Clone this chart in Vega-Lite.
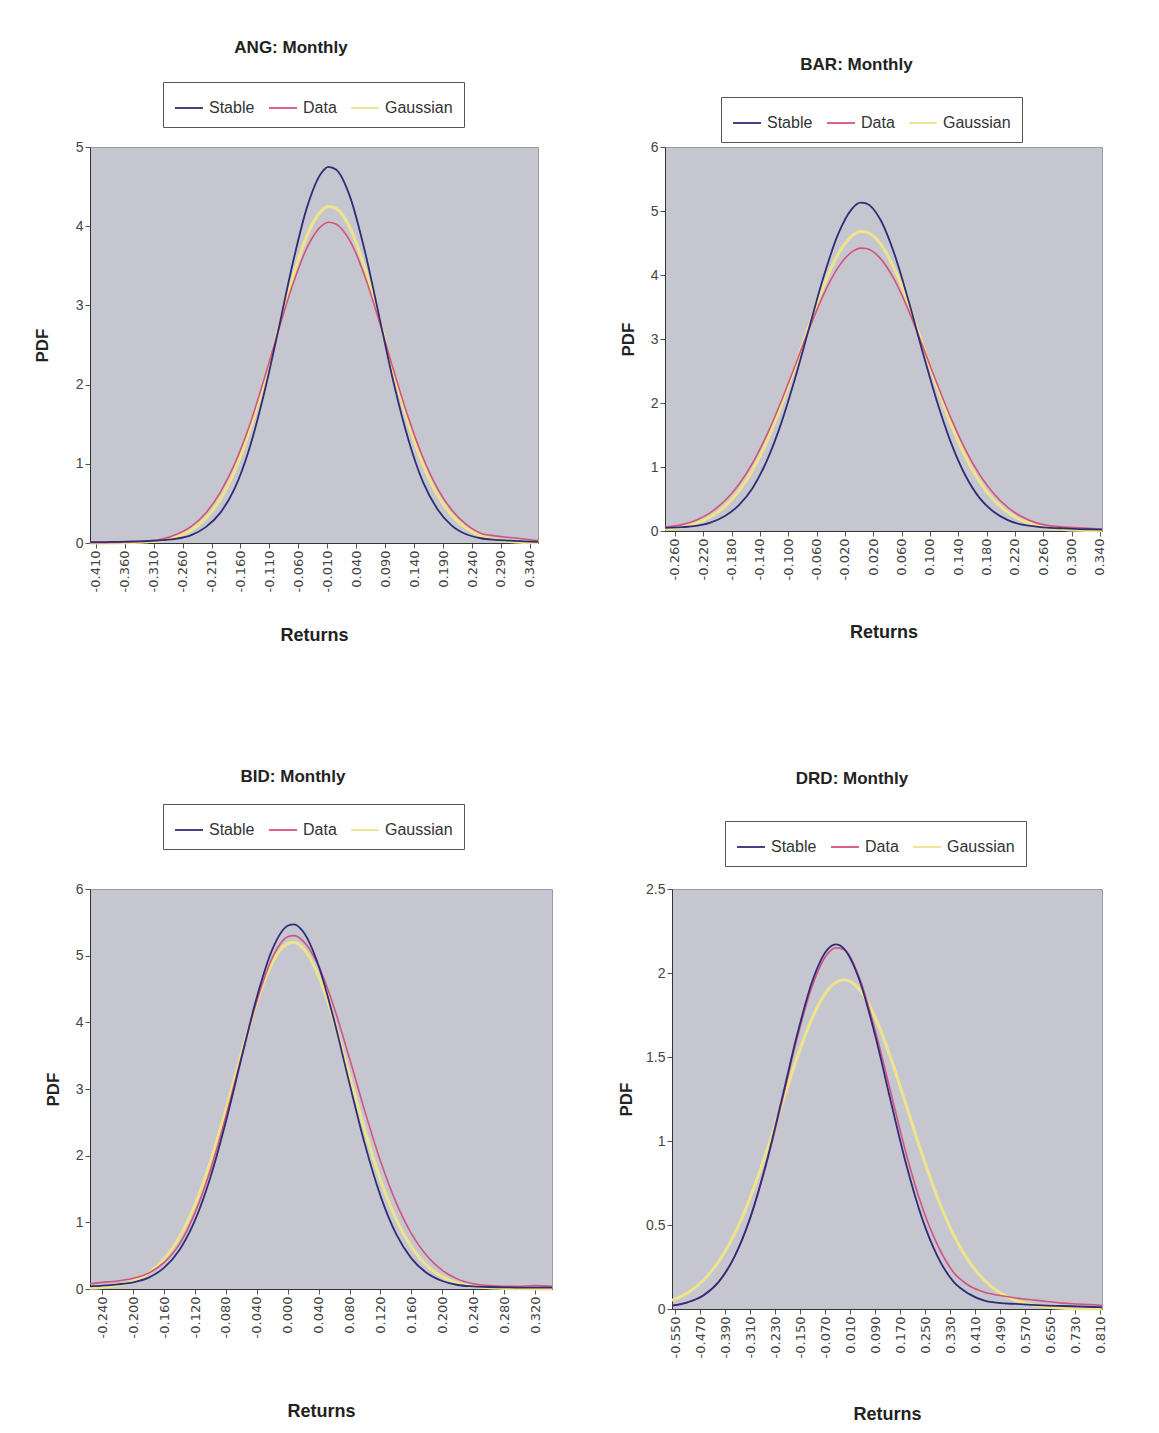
{
  "$schema": "https://vega.github.io/schema/vega-lite/v6.json",
  "background": "white",
  "padding": {"left": 32, "top": 38, "right": 5, "bottom": 5},
  "columns": 1,
  "align": "none",
  "spacing": 121,
  "resolve": {"scale": {"color": "independent"}, "legend": {"color": "independent"}},
  "config": {
    "view": {"fill": "#c6c6d0", "stroke": "#9a9aa6"},
    "font": "Liberation Sans",
    "title": {"font": "Liberation Sans", "fontSize": 17, "fontWeight": "bold", "color": "#222222", "anchor": "middle"},
    "axis": {"grid": false, "domainColor": "#333333", "tickColor": "#555555", "tickSize": 5, "labelPadding": 2, "labelColor": "#444444", "titleColor": "#222222", "labelOverlap": false, "labelFlush": false},
    "axisX": {"labelAngle": -90, "labelFont": "DejaVu Sans", "labelFontSize": 13, "titleFont": "Liberation Sans", "titleFontSize": 18, "titleFontWeight": "bold", "labelExpr": "replace(format(datum.value, '.3f'), '\u2212', '-')"},
    "axisY": {"labelFont": "Liberation Sans", "labelFontSize": 14, "titleFont": "Liberation Sans", "titleFontSize": 17, "titleFontWeight": "bold", "titlePadding": 13},
    "legend": {"orient": "none", "direction": "horizontal", "symbolType": "stroke", "symbolSize": 784, "symbolStrokeWidth": 1.8, "labelFont": "Liberation Sans", "labelFontSize": 16, "labelColor": "#333333", "strokeColor": "#555555", "padding": 11, "columnPadding": 10, "labelOffset": 5},
    "line": {"interpolate": "monotone"}
  },
  "concat": [
    {
      "bounds": "flush",
      "spacing": 127,
      "resolve": {"scale": {"color": "independent"}, "legend": {"color": "independent"}},
      "hconcat": [
        {
          "title": {"text": "ANG: Monthly", "offset": 25, "dx": -23},
          "width": 448,
          "height": 396,
          "data": {"values": [
            {"x": -0.420, "s": 0.010, "d": 0.005, "g": 0.000},
            {"x": -0.395, "s": 0.012, "d": 0.005, "g": 0.001},
            {"x": -0.370, "s": 0.015, "d": 0.008, "g": 0.002},
            {"x": -0.345, "s": 0.020, "d": 0.012, "g": 0.006},
            {"x": -0.320, "s": 0.025, "d": 0.025, "g": 0.016},
            {"x": -0.295, "s": 0.035, "d": 0.050, "g": 0.036},
            {"x": -0.270, "s": 0.055, "d": 0.110, "g": 0.080},
            {"x": -0.245, "s": 0.100, "d": 0.210, "g": 0.163},
            {"x": -0.220, "s": 0.200, "d": 0.380, "g": 0.311},
            {"x": -0.195, "s": 0.380, "d": 0.640, "g": 0.551},
            {"x": -0.170, "s": 0.690, "d": 1.000, "g": 0.911},
            {"x": -0.145, "s": 1.185, "d": 1.470, "g": 1.402},
            {"x": -0.120, "s": 1.866, "d": 2.050, "g": 2.011},
            {"x": -0.095, "s": 2.675, "d": 2.668, "g": 2.687},
            {"x": -0.070, "s": 3.523, "d": 3.257, "g": 3.346},
            {"x": -0.045, "s": 4.241, "d": 3.729, "g": 3.882},
            {"x": -0.020, "s": 4.675, "d": 4.003, "g": 4.196},
            {"x": -0.008, "s": 4.750, "d": 4.050, "g": 4.250},
            {"x": 0.005, "s": 4.716, "d": 4.029, "g": 4.226},
            {"x": 0.030, "s": 4.355, "d": 3.802, "g": 3.965},
            {"x": 0.055, "s": 3.680, "d": 3.364, "g": 3.467},
            {"x": 0.080, "s": 2.849, "d": 2.791, "g": 2.824},
            {"x": 0.105, "s": 2.011, "d": 2.171, "g": 2.143},
            {"x": 0.130, "s": 1.307, "d": 1.583, "g": 1.515},
            {"x": 0.155, "s": 0.774, "d": 1.082, "g": 0.998},
            {"x": 0.180, "s": 0.430, "d": 0.694, "g": 0.613},
            {"x": 0.205, "s": 0.220, "d": 0.417, "g": 0.351},
            {"x": 0.230, "s": 0.110, "d": 0.235, "g": 0.187},
            {"x": 0.255, "s": 0.060, "d": 0.124, "g": 0.093},
            {"x": 0.280, "s": 0.040, "d": 0.090, "g": 0.043},
            {"x": 0.305, "s": 0.030, "d": 0.070, "g": 0.018},
            {"x": 0.330, "s": 0.020, "d": 0.050, "g": 0.007},
            {"x": 0.354, "s": 0.015, "d": 0.030, "g": 0.003}
          ]},
          "encoding": {
            "x": {"field": "x", "type": "quantitative", "scale": {"domain": [-0.42, 0.354], "nice": false, "zero": false},
                  "axis": {"title": "Returns", "titlePadding": 35, "values": [-0.41, -0.36, -0.31, -0.26, -0.21, -0.16, -0.11, -0.06, -0.01, 0.04, 0.09, 0.14, 0.19, 0.24, 0.29, 0.34]}}
          },
          "layer": [
            {"mark": {"type": "line", "strokeWidth": 3}, "encoding": {
              "y": {"field": "g", "type": "quantitative", "title": "PDF", "scale": {"domain": [0, 5], "nice": false}, "axis": {"values": [0, 0.5, 1, 1.5, 2, 2.5, 3, 3.5, 4, 4.5, 5], "format": ".1~f", "titlePadding": 24}},
              "color": {"datum": "Gaussian", "type": "nominal", "scale": {"domain": ["Stable", "Data", "Gaussian"], "range": ["#2d2d78", "#d4527e", "#eee48a"]}, "legend": {"title": null, "legendX": 73, "legendY": -65}}}},
            {"mark": {"type": "line", "strokeWidth": 1.6}, "encoding": {
              "y": {"field": "d", "type": "quantitative", "title": "PDF", "scale": {"domain": [0, 5], "nice": false}},
              "color": {"datum": "Data", "type": "nominal"}}},
            {"mark": {"type": "line", "strokeWidth": 1.8}, "encoding": {
              "y": {"field": "s", "type": "quantitative", "title": "PDF", "scale": {"domain": [0, 5], "nice": false}},
              "color": {"datum": "Stable", "type": "nominal"}}}
          ]
        },
        {
          "title": {"text": "BAR: Monthly", "offset": 23, "dx": -27},
          "width": 437,
          "height": 384,
          "data": {"values": [
            {"x": -0.274, "s": 0.050, "d": 0.060, "g": 0.032},
            {"x": -0.25, "s": 0.060, "d": 0.100, "g": 0.064},
            {"x": -0.23, "s": 0.080, "d": 0.169, "g": 0.122},
            {"x": -0.21, "s": 0.130, "d": 0.288, "g": 0.221},
            {"x": -0.19, "s": 0.230, "d": 0.468, "g": 0.380},
            {"x": -0.17, "s": 0.400, "d": 0.724, "g": 0.619},
            {"x": -0.15, "s": 0.676, "d": 1.069, "g": 0.957},
            {"x": -0.13, "s": 1.103, "d": 1.506, "g": 1.404},
            {"x": -0.11, "s": 1.682, "d": 2.023, "g": 1.954},
            {"x": -0.09, "s": 2.397, "d": 2.594, "g": 2.579},
            {"x": -0.07, "s": 3.192, "d": 3.171, "g": 3.227},
            {"x": -0.05, "s": 3.975, "d": 3.697, "g": 3.832},
            {"x": -0.03, "s": 4.626, "d": 4.111, "g": 4.316},
            {"x": -0.01, "s": 5.034, "d": 4.362, "g": 4.611},
            {"x": 0.002, "s": 5.130, "d": 4.420, "g": 4.680},
            {"x": 0.01, "s": 5.119, "d": 4.413, "g": 4.672},
            {"x": 0.03, "s": 4.867, "d": 4.260, "g": 4.491},
            {"x": 0.05, "s": 4.325, "d": 3.922, "g": 4.094},
            {"x": 0.07, "s": 3.592, "d": 3.444, "g": 3.541},
            {"x": 0.09, "s": 2.789, "d": 2.885, "g": 2.904},
            {"x": 0.11, "s": 2.025, "d": 2.305, "g": 2.259},
            {"x": 0.13, "s": 1.374, "d": 1.756, "g": 1.667},
            {"x": 0.15, "s": 0.871, "d": 1.277, "g": 1.167},
            {"x": 0.17, "s": 0.517, "d": 0.885, "g": 0.775},
            {"x": 0.19, "s": 0.300, "d": 0.585, "g": 0.488},
            {"x": 0.21, "s": 0.170, "d": 0.369, "g": 0.292},
            {"x": 0.23, "s": 0.100, "d": 0.222, "g": 0.165},
            {"x": 0.25, "s": 0.070, "d": 0.127, "g": 0.089},
            {"x": 0.27, "s": 0.050, "d": 0.080, "g": 0.045},
            {"x": 0.29, "s": 0.040, "d": 0.060, "g": 0.022},
            {"x": 0.31, "s": 0.030, "d": 0.050, "g": 0.010},
            {"x": 0.33, "s": 0.025, "d": 0.040, "g": 0.004},
            {"x": 0.343, "s": 0.020, "d": 0.030, "g": 0.003}
          ]},
          "encoding": {
            "x": {"field": "x", "type": "quantitative", "scale": {"domain": [-0.274, 0.343], "nice": false, "zero": false},
                  "axis": {"title": "Returns", "titlePadding": 44, "values": [-0.26, -0.22, -0.18, -0.14, -0.1, -0.06, -0.02, 0.02, 0.06, 0.1, 0.14, 0.18, 0.22, 0.26, 0.3, 0.34]}}
          },
          "layer": [
            {"mark": {"type": "line", "strokeWidth": 3}, "encoding": {
              "y": {"field": "g", "type": "quantitative", "title": "PDF", "scale": {"domain": [0, 6], "nice": false}, "axis": {"values": [0, 1, 2, 3, 4, 5, 6], "format": "d"}},
              "color": {"datum": "Gaussian", "type": "nominal", "scale": {"domain": ["Stable", "Data", "Gaussian"], "range": ["#2d2d78", "#d4527e", "#eee48a"]}, "legend": {"title": null, "legendX": 56, "legendY": -50}}}},
            {"mark": {"type": "line", "strokeWidth": 1.6}, "encoding": {
              "y": {"field": "d", "type": "quantitative", "title": "PDF", "scale": {"domain": [0, 6], "nice": false}},
              "color": {"datum": "Data", "type": "nominal"}}},
            {"mark": {"type": "line", "strokeWidth": 1.8}, "encoding": {
              "y": {"field": "s", "type": "quantitative", "title": "PDF", "scale": {"domain": [0, 6], "nice": false}},
              "color": {"datum": "Stable", "type": "nominal"}}}
          ]
        }
      ]
    },
    {
      "bounds": "flush",
      "spacing": 120,
      "resolve": {"scale": {"color": "independent"}, "legend": {"color": "independent"}},
      "hconcat": [
        {
          "title": {"text": "BID: Monthly", "offset": 18, "dx": -28},
          "width": 462,
          "height": 400,
          "data": {"values": [
            {"x": -0.256, "s": 0.040, "d": 0.080, "g": 0.012},
            {"x": -0.24, "s": 0.050, "d": 0.100, "g": 0.024},
            {"x": -0.22, "s": 0.070, "d": 0.120, "g": 0.055},
            {"x": -0.20, "s": 0.100, "d": 0.160, "g": 0.120},
            {"x": -0.18, "s": 0.170, "d": 0.240, "g": 0.240},
            {"x": -0.16, "s": 0.320, "d": 0.400, "g": 0.449},
            {"x": -0.14, "s": 0.590, "d": 0.678, "g": 0.782},
            {"x": -0.12, "s": 1.033, "d": 1.146, "g": 1.268},
            {"x": -0.10, "s": 1.681, "d": 1.794, "g": 1.915},
            {"x": -0.08, "s": 2.516, "d": 2.597, "g": 2.695},
            {"x": -0.06, "s": 3.462, "d": 3.482, "g": 3.531},
            {"x": -0.04, "s": 4.380, "d": 4.321, "g": 4.308},
            {"x": -0.02, "s": 5.095, "d": 4.966, "g": 4.897},
            {"x": 0.00, "s": 5.449, "d": 5.282, "g": 5.183},
            {"x": 0.008, "s": 5.470, "d": 5.300, "g": 5.200},
            {"x": 0.02, "s": 5.358, "d": 5.219, "g": 5.110},
            {"x": 0.04, "s": 4.845, "d": 4.843, "g": 4.692},
            {"x": 0.06, "s": 4.027, "d": 4.220, "g": 4.013},
            {"x": 0.08, "s": 3.077, "d": 3.456, "g": 3.196},
            {"x": 0.10, "s": 2.162, "d": 2.657, "g": 2.371},
            {"x": 0.12, "s": 1.397, "d": 1.920, "g": 1.638},
            {"x": 0.14, "s": 0.830, "d": 1.303, "g": 1.054},
            {"x": 0.16, "s": 0.460, "d": 0.831, "g": 0.632},
            {"x": 0.18, "s": 0.240, "d": 0.498, "g": 0.353},
            {"x": 0.20, "s": 0.120, "d": 0.280, "g": 0.183},
            {"x": 0.22, "s": 0.060, "d": 0.148, "g": 0.089},
            {"x": 0.24, "s": 0.040, "d": 0.080, "g": 0.040},
            {"x": 0.26, "s": 0.030, "d": 0.050, "g": 0.017},
            {"x": 0.28, "s": 0.025, "d": 0.040, "g": 0.007},
            {"x": 0.30, "s": 0.020, "d": 0.040, "g": 0.003},
            {"x": 0.32, "s": 0.020, "d": 0.050, "g": 0.001},
            {"x": 0.342, "s": 0.020, "d": 0.040, "g": 0.000}
          ]},
          "encoding": {
            "x": {"field": "x", "type": "quantitative", "scale": {"domain": [-0.256, 0.342], "nice": false, "zero": false},
                  "axis": {"title": "Returns", "titlePadding": 65, "values": [-0.24, -0.2, -0.16, -0.12, -0.08, -0.04, 0, 0.04, 0.08, 0.12, 0.16, 0.2, 0.24, 0.28, 0.32]}}
          },
          "layer": [
            {"mark": {"type": "line", "strokeWidth": 3}, "encoding": {
              "y": {"field": "g", "type": "quantitative", "title": "PDF", "scale": {"domain": [0, 6], "nice": false}, "axis": {"values": [0, 1, 2, 3, 4, 5, 6], "format": "d", "titlePadding": 13}},
              "color": {"datum": "Gaussian", "type": "nominal", "scale": {"domain": ["Stable", "Data", "Gaussian"], "range": ["#2d2d78", "#d4527e", "#eee48a"]}, "legend": {"title": null, "legendX": 73, "legendY": -85}}}},
            {"mark": {"type": "line", "strokeWidth": 1.6}, "encoding": {
              "y": {"field": "d", "type": "quantitative", "title": "PDF", "scale": {"domain": [0, 6], "nice": false}},
              "color": {"datum": "Data", "type": "nominal"}}},
            {"mark": {"type": "line", "strokeWidth": 1.8}, "encoding": {
              "y": {"field": "s", "type": "quantitative", "title": "PDF", "scale": {"domain": [0, 6], "nice": false}},
              "color": {"datum": "Stable", "type": "nominal"}}}
          ]
        },
        {
          "title": {"text": "DRD: Monthly", "offset": 33, "dx": -35},
          "width": 430,
          "height": 420,
          "data": {"values": [
            {"x": -0.56, "s": 0.020, "d": 0.020, "g": 0.051},
            {"x": -0.51, "s": 0.040, "d": 0.040, "g": 0.096},
            {"x": -0.46, "s": 0.080, "d": 0.080, "g": 0.170},
            {"x": -0.41, "s": 0.164, "d": 0.160, "g": 0.284},
            {"x": -0.36, "s": 0.312, "d": 0.310, "g": 0.446},
            {"x": -0.31, "s": 0.541, "d": 0.540, "g": 0.661},
            {"x": -0.26, "s": 0.857, "d": 0.850, "g": 0.922},
            {"x": -0.21, "s": 1.237, "d": 1.220, "g": 1.209},
            {"x": -0.16, "s": 1.629, "d": 1.610, "g": 1.494},
            {"x": -0.11, "s": 1.957, "d": 1.930, "g": 1.737},
            {"x": -0.06, "s": 2.145, "d": 2.120, "g": 1.902},
            {"x": -0.035, "s": 2.170, "d": 2.150, "g": 1.945},
            {"x": -0.01, "s": 2.145, "d": 2.140, "g": 1.960},
            {"x": 0.04, "s": 1.957, "d": 1.970, "g": 1.902},
            {"x": 0.09, "s": 1.629, "d": 1.660, "g": 1.737},
            {"x": 0.14, "s": 1.237, "d": 1.290, "g": 1.494},
            {"x": 0.19, "s": 0.857, "d": 0.920, "g": 1.209},
            {"x": 0.24, "s": 0.541, "d": 0.610, "g": 0.922},
            {"x": 0.29, "s": 0.312, "d": 0.380, "g": 0.661},
            {"x": 0.34, "s": 0.164, "d": 0.220, "g": 0.446},
            {"x": 0.39, "s": 0.090, "d": 0.140, "g": 0.284},
            {"x": 0.44, "s": 0.050, "d": 0.100, "g": 0.170},
            {"x": 0.49, "s": 0.035, "d": 0.080, "g": 0.096},
            {"x": 0.54, "s": 0.030, "d": 0.065, "g": 0.051},
            {"x": 0.59, "s": 0.025, "d": 0.055, "g": 0.025},
            {"x": 0.64, "s": 0.020, "d": 0.045, "g": 0.012},
            {"x": 0.69, "s": 0.018, "d": 0.035, "g": 0.005},
            {"x": 0.74, "s": 0.015, "d": 0.030, "g": 0.002},
            {"x": 0.79, "s": 0.012, "d": 0.025, "g": 0.001},
            {"x": 0.816, "s": 0.010, "d": 0.020, "g": 0.000}
          ]},
          "encoding": {
            "x": {"field": "x", "type": "quantitative", "scale": {"domain": [-0.56, 0.816], "nice": false, "zero": false},
                  "axis": {"title": "Returns", "titlePadding": 48, "values": [-0.55, -0.47, -0.39, -0.31, -0.23, -0.15, -0.07, 0.01, 0.09, 0.17, 0.25, 0.33, 0.41, 0.49, 0.57, 0.65, 0.73, 0.81]}}
          },
          "layer": [
            {"mark": {"type": "line", "strokeWidth": 3}, "encoding": {
              "y": {"field": "g", "type": "quantitative", "title": "PDF", "scale": {"domain": [0, 2.5], "nice": false}, "axis": {"values": [0, 0.5, 1, 1.5, 2, 2.5], "format": ".1~f", "titlePadding": 10}},
              "color": {"datum": "Gaussian", "type": "nominal", "scale": {"domain": ["Stable", "Data", "Gaussian"], "range": ["#2d2d78", "#d4527e", "#eee48a"]}, "legend": {"title": null, "legendX": 53, "legendY": -68}}}},
            {"mark": {"type": "line", "strokeWidth": 1.6}, "encoding": {
              "y": {"field": "d", "type": "quantitative", "title": "PDF", "scale": {"domain": [0, 2.5], "nice": false}},
              "color": {"datum": "Data", "type": "nominal"}}},
            {"mark": {"type": "line", "strokeWidth": 1.8}, "encoding": {
              "y": {"field": "s", "type": "quantitative", "title": "PDF", "scale": {"domain": [0, 2.5], "nice": false}},
              "color": {"datum": "Stable", "type": "nominal"}}}
          ]
        }
      ]
    }
  ]
}
